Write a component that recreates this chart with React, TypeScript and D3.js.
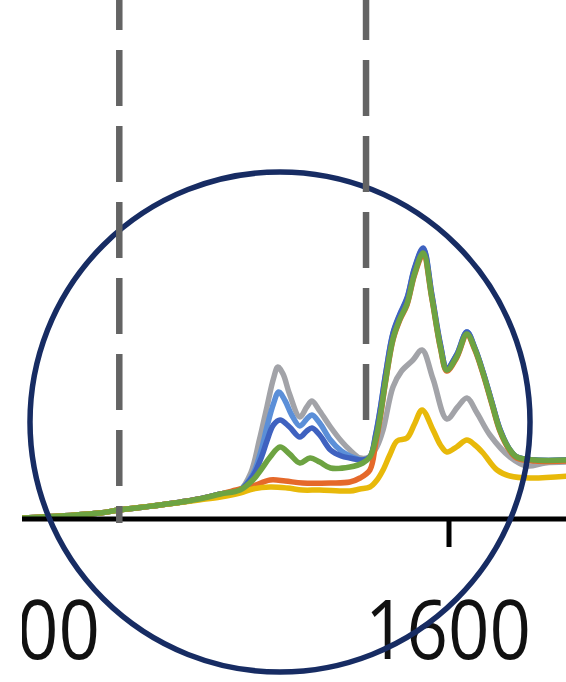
import React from "react";
import * as d3 from "d3";

// ---- data (wavenumber, intensity in arbitrary units) ----
const X_TICKS = [1400, 1600];
const DASHED_AT = [1447, 1561.5];

const BASE: [number, number][] = [
  [1396, 0], [1402, 1], [1420, 3], [1438, 6], [1447, 9], [1466, 14], [1484, 20], [1494, 25], [1503, 29],
];

const GRAY: [number, number][] = [
  ...BASE,
  [1508, 46], [1512, 79], [1515.5, 112], [1518.5, 140], [1520.6, 152], [1523, 145], [1526, 125],
  [1530.8, 102], [1534, 112], [1536.4, 118], [1540, 108], [1545, 92], [1550, 78], [1554, 69],
  [1558.7, 61], [1563, 62], [1566.5, 72], [1569.4, 89], [1574, 132], [1578, 148], [1583.3, 159],
  [1587.5, 169], [1592.6, 140], [1599, 100], [1604, 112], [1608.3, 121], [1613, 106], [1619, 84],
  [1628.3, 62], [1636.2, 53], [1644.6, 56], [1656, 57],
];

const LIGHT_BLUE: [number, number][] = [
  ...BASE,
  [1509, 45], [1513, 70], [1515.5, 92], [1518.5, 115], [1521, 127], [1524, 118], [1527, 104],
  [1530.8, 93], [1534, 100], [1536.4, 104], [1540, 96], [1545, 79], [1550, 68], [1554, 63],
  [1560, 59], [1563.3, 62], [1566, 84], [1568, 108], [1570.7, 146], [1574, 185], [1577.2, 204],
  [1580.5, 220], [1584, 250], [1588, 270], [1592, 224], [1596, 174], [1599, 151], [1603.5, 164],
  [1608.3, 187], [1612, 171], [1615.8, 147], [1620, 116], [1623.6, 90], [1628, 70], [1631.5, 62],
  [1640, 59], [1656, 59],
];

const BLUE: [number, number][] = [
  ...BASE,
  [1509, 43], [1513, 62], [1515.5, 78], [1518.5, 94], [1521.6, 99], [1526, 92], [1530.8, 82],
  [1534, 88], [1536.4, 91], [1540, 84], [1545, 69], [1550, 63], [1554, 61], [1560, 59],
  [1563.3, 62], [1566, 85], [1568, 109], [1570.7, 147], [1574, 186], [1577.2, 205], [1580.5, 221],
  [1584, 251], [1588, 271], [1592, 225], [1596, 175], [1599, 151], [1603.5, 164], [1608.3, 187],
  [1612, 171], [1615.8, 147], [1620, 116], [1623.6, 90], [1628, 70], [1631.5, 62], [1640, 59],
  [1656, 59],
];

const ORANGE: [number, number][] = [
  [1396, 0], [1402, 1], [1420, 3], [1438, 6], [1447, 9], [1466, 14], [1484, 20], [1494, 25],
  [1503, 30], [1509, 33], [1517, 39], [1524, 38], [1532, 36], [1545, 36], [1554, 37],
  [1558.7, 41], [1563.3, 49], [1566, 76], [1568, 100], [1570.7, 139], [1574, 179], [1577.2, 199],
  [1580.5, 214], [1584, 244], [1588, 264], [1592, 221], [1596, 171], [1599, 148], [1603.5, 161],
  [1608.3, 184], [1612, 169], [1615.8, 145], [1620, 114], [1623.6, 88], [1628, 69], [1631.5, 61],
  [1640, 58], [1656, 58],
];

const YELLOW: [number, number][] = [
  [1396, 0], [1402, 1], [1420, 3], [1438, 6], [1447, 9], [1466, 14], [1484, 19],
  [1494, 22], [1503, 26], [1509, 30], [1517, 32], [1525, 31], [1532, 29], [1540, 29], [1554, 28],
  [1558.7, 30], [1563.3, 32], [1566.6, 39], [1569.4, 49], [1572.5, 64], [1575.9, 78], [1580.5, 81],
  [1584, 95], [1587.5, 109], [1592.6, 89], [1596, 74], [1599, 67], [1603.5, 72], [1608.3, 79],
  [1612, 74], [1615.8, 66], [1622.3, 49], [1628.3, 43], [1637.6, 41], [1656, 43],
];

const GREEN: [number, number][] = [
  ...BASE,
  [1509, 39], [1513, 50], [1517, 62], [1521.6, 72], [1526, 65], [1530.8, 56], [1535.5, 61],
  [1540, 57], [1545, 51], [1554, 52], [1560, 56], [1563.3, 62], [1566, 80], [1568, 102],
  [1570.7, 140], [1574, 180], [1577.2, 200], [1580.5, 215], [1584, 245], [1588, 266], [1592, 222],
  [1596, 172], [1599, 149], [1603.5, 162], [1608.3, 185], [1612, 170], [1615.8, 146], [1620, 115],
  [1623.6, 89], [1628, 70], [1631.5, 62], [1640, 59], [1656, 59],
];

const SERIES = [
  { name: "gray", color: "#A2A3A8", data: GRAY },
  { name: "lightblue", color: "#5B8FD8", data: LIGHT_BLUE },
  { name: "blue", color: "#3F62C0", data: BLUE },
  { name: "orange", color: "#E5692A", data: ORANGE },
  { name: "yellow", color: "#E8B90A", data: YELLOW },
  { name: "green", color: "#6DA342", data: GREEN },
];

const W = 566;
const H = 682;

export default function App() {
  const x = d3.scaleLinear().domain([1400, 1600]).range([18, 449]);
  const y = d3.scaleLinear().domain([0, 300]).range([519, 219]);
  const line = d3
    .line<[number, number]>()
    .x((d) => x(d[0]))
    .y((d) => y(d[1]))
    .curve(d3.curveCatmullRom.alpha(0.5));

  return (
    <svg
      width={W}
      height={H}
      style={{ position: "absolute", left: 0, top: 0, display: "block", background: "#fff" }}
    >
      <defs>
        <clipPath id="clip">
          <rect x={22} y={0} width={W - 22} height={H} />
        </clipPath>
      </defs>
      <rect x={0} y={0} width={W} height={H} fill="#fff" />
      <g clipPath="url(#clip)">
        {SERIES.map((s) => (
          <path
            key={s.name}
            d={line(s.data) || ""}
            fill="none"
            stroke={s.color}
            strokeWidth={5.5}
            strokeLinejoin="round"
            strokeLinecap="round"
          />
        ))}
        {/* x axis */}
        <line x1={0} x2={W} y1={519} y2={519} stroke="#000" strokeWidth={5} />
        {X_TICKS.map((t) => (
          <g key={t}>
            <line x1={x(t)} x2={x(t)} y1={519} y2={547} stroke="#000" strokeWidth={5} />
            <text
              x={x(t) - 1}
              y={659}
              textAnchor="middle"
              fontFamily="'Open Sans', 'Noto Sans', sans-serif"
              fontSize={83}
              textLength={166}
              lengthAdjust="spacingAndGlyphs"
              fill="#111"
            >
              {t}
            </text>
          </g>
        ))}
        {/* circle highlight */}
        <circle cx={280} cy={422} r={250} fill="none" stroke="#172C63" strokeWidth={5.5} />
        {/* dashed markers */}
        <line
          x1={x(DASHED_AT[0])}
          x2={x(DASHED_AT[0])}
          y1={-26}
          y2={523}
          stroke="#646464"
          strokeWidth={6.5}
          strokeDasharray="56 20"
        />
        <line
          x1={x(DASHED_AT[1])}
          x2={x(DASHED_AT[1])}
          y1={-16}
          y2={421}
          stroke="#646464"
          strokeWidth={6.5}
          strokeDasharray="56 20"
        />
      </g>
    </svg>
  );
}
